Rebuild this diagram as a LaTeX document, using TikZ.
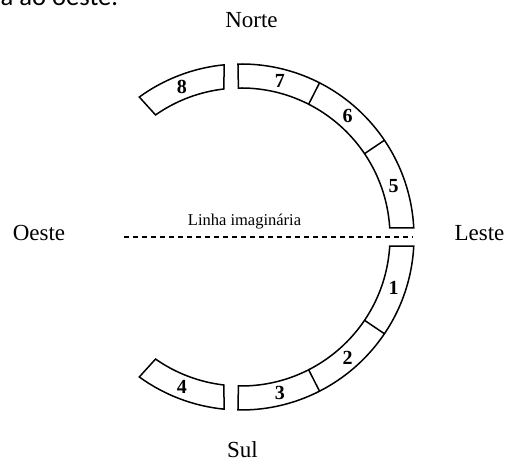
\documentclass[tikz,border=0pt]{standalone}
\usepackage{fontspec}
\setmainfont{Liberation Serif}
\newfontfamily\carlito{Carlito}
\begin{document}
\begin{tikzpicture}[x=1pt,y=1pt,
  ring/.style={draw=black,line width=1.5pt,line join=miter,fill=white},
  divider/.style={draw=black,line width=1.5pt},
  num/.style={font=\fontsize{20}{22}\selectfont\bfseries,inner sep=0pt},
  dir/.style={font=\fontsize{23}{25}\selectfont,inner sep=0pt,anchor=base},
  imag/.style={draw=black,line width=1.5pt,dash pattern=on 5pt off 4pt}]
\clip (0,0) rectangle (507,463);
\coordinate (c) at (241,226);
% top-left cut-off text
\node[font=\carlito\fontsize{26.6}{28}\selectfont,inner sep=0pt,anchor=base west] (frag) at (0.5,457) {a ao oeste.};
% dashed line
\coordinate (dl) at (124,226);
\coordinate (dr) at (413,226);
\draw[imag] (dl) -- (dr);
\node[font=\fontsize{16.5}{18}\selectfont,inner sep=0pt,anchor=base] (linha) at (244.5,237) {Linha imaginária};
% upper pieces 5-6-7
\draw[ring] ([shift={(91:173)}]c) arc[start angle=91,end angle=3,radius=173]
  -- ([shift={(3.5:149)}]c) arc[start angle=3.5,end angle=91,radius=149] -- cycle;
\draw[divider] ([shift={(63:149)}]c) -- ([shift={(63:173)}]c);
\draw[divider] ([shift={(34:149)}]c) -- ([shift={(34:173)}]c);
% piece 8
\draw[ring] ([shift={(126:173)}]c) arc[start angle=126,end angle=95.6,radius=173]
  -- ([shift={(96.6:149)}]c) arc[start angle=96.6,end angle=125,radius=149] -- cycle;
% lower pieces 1-2-3
\draw[ring] ([shift={(-91:173)}]c) arc[start angle=-91,end angle=-3,radius=173]
  -- ([shift={(-3.5:149)}]c) arc[start angle=-3.5,end angle=-91,radius=149] -- cycle;
\draw[divider] ([shift={(-63:149)}]c) -- ([shift={(-63:173)}]c);
\draw[divider] ([shift={(-34:149)}]c) -- ([shift={(-34:173)}]c);
% piece 4
\draw[ring] ([shift={(-126:173)}]c) arc[start angle=-126,end angle=-95.6,radius=173]
  -- ([shift={(-96.6:149)}]c) arc[start angle=-96.6,end angle=-125,radius=149] -- cycle;
% numbers
\node[num] (n7) at ([shift={(76:161)}]c) {7};
\node[num] (n6) at ([shift={(48.5:161)}]c) {6};
\node[num] (n5) at ([shift={(18.5:161)}]c) {5};
\node[num] (n8) at ([shift={(111.5:161)}]c) {8};
\node[num] (n1) at ([shift={(-18.5:161)}]c) {1};
\node[num] (n2) at ([shift={(-48.5:161)}]c) {2};
\node[num] (n3) at ([shift={(-76:161)}]c) {3};
\node[num] (n4) at ([shift={(-111.5:161)}]c) {4};
% directions
\node[dir] (norte) at (251.5,435) {Norte};
\node[dir] (sul) at (242.5,5) {Sul};
\node[dir] (oeste) at (39,222) {Oeste};
\node[dir] (leste) at (479.5,222) {Leste};
\end{tikzpicture}
\end{document}
